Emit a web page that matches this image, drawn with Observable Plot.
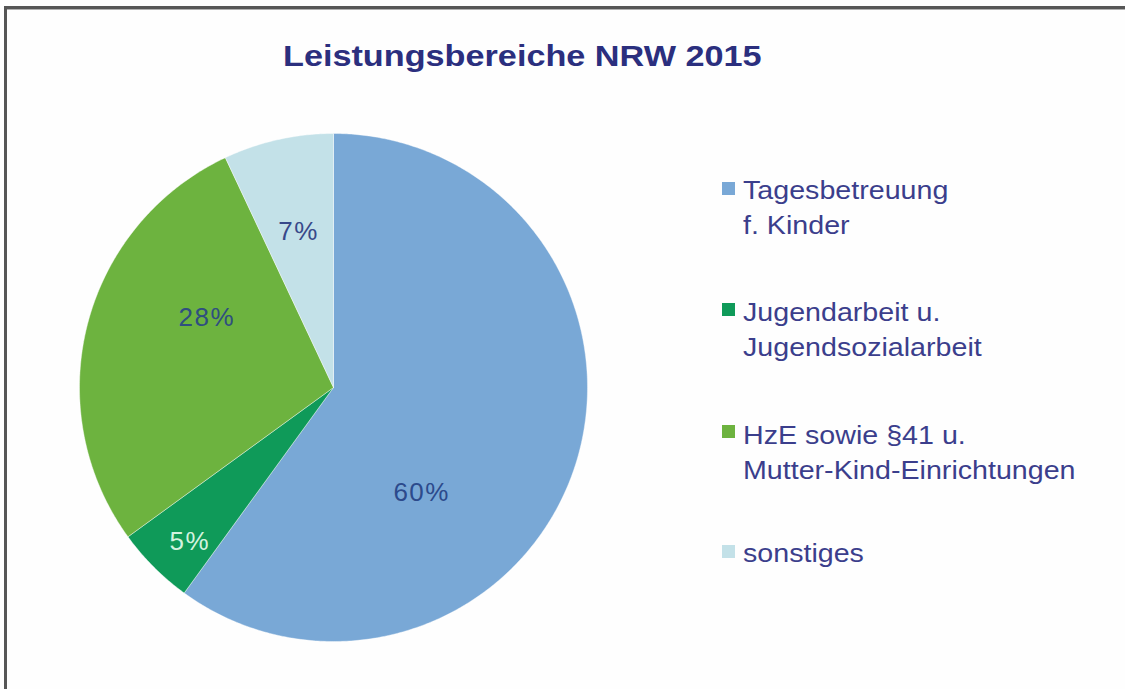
<!DOCTYPE html>
<html>
<head>
<meta charset="utf-8">
<script src="https://cdn.jsdelivr.net/npm/d3@7"></script>
<script src="https://cdn.jsdelivr.net/npm/@observablehq/plot@0.6"></script>
<style>
  html, body { margin: 0; padding: 0; background: #fff; }
  #wrap { position: relative; width: 1125px; height: 689px; overflow: hidden; background: #fefefe;
          font-family: "Liberation Sans", Arial, sans-serif; }
  #chart { position: absolute; left: 0; top: 0; }
  .frameTop { position: absolute; left: 4px; right: 0; top: 6px; height: 3px; background: #565656;
              border-bottom: 1px solid #b0b0b0; }
  .frameLeft { position: absolute; left: 4px; width: 3px; top: 6px; bottom: 0; background: #565656; }
  #title { position: absolute; left: 283px; top: 42px; font-size: 29px; line-height: 29px; font-weight: bold;
           color: #2b2f7e; white-space: nowrap; transform: scaleX(1.18); transform-origin: left center; }
  .legText { position: absolute; left: 743px; font-size: 25px; line-height: 35px; color: #3b3e8c;
             white-space: pre; transform: scaleX(1.145); transform-origin: left center; }
  .legSwatch { position: absolute; left: 722px; width: 13px; height: 13px; }
</style>
</head>
<body>
<div id="wrap">
  <div class="frameTop"></div>
  <div class="frameLeft"></div>
  <div id="title">Leistungsbereiche NRW 2015</div>
  <div id="chart"></div>
</div>
<script>
// ---- data ----
const categories = [
  "Tagesbetreuung\nf. Kinder",
  "Jugendarbeit u.\nJugendsozialarbeit",
  "HzE sowie §41 u.\nMutter-Kind-Einrichtungen",
  "sonstiges"
];
const shares = [60, 5, 28, 7];
const percentLabels = ["60%", "5%", "28%", "7%"];

// ---- style / layout ----
const sliceColors = ["#79a8d6", "#0f9a59", "#6db33f", "#c3e1e8"];
const labelColors = ["#2c4a8c", "#d2f3df", "#2f4e80", "#38498a"];
// label placement: angular shift from slice middle (degrees) and radius fraction
const labelShift = [32, -2, 14.6, 0];
const labelRadius = [0.54, 0.83, 0.57, 0.63];

const W = 1125, H = 689;
const cx = 333, cy = 387, R = 254; // pixel layout of pie

// build slice polygons in unit coordinates (angle clockwise from 12 o'clock)
const total = d3.sum(shares);
let acc = 0;
const polys = [];
const labels = [];
shares.forEach((v, i) => {
  const a0 = acc / total * 2 * Math.PI;
  acc += v;
  const a1 = acc / total * 2 * Math.PI;
  polys.push({cat: categories[i], x: 0, y: 0});
  const n = Math.max(2, Math.ceil((a1 - a0) / (Math.PI / 360)));
  for (let k = 0; k <= n; k++) {
    const a = a0 + (a1 - a0) * k / n;
    polys.push({cat: categories[i], x: Math.sin(a), y: Math.cos(a)});
  }
  polys.push({cat: categories[i], x: 0, y: 0});
  const am = (a0 + a1) / 2 + labelShift[i] * Math.PI / 180;
  labels.push({cat: categories[i], text: percentLabels[i], color: labelColors[i],
               x: labelRadius[i] * Math.sin(am), y: labelRadius[i] * Math.cos(am)});
});

const plot = Plot.plot({
  width: W, height: H,
  margin: 0,
  style: {background: "transparent", fontFamily: "'Liberation Sans', Arial, sans-serif"},
  x: {domain: [-cx / R, (W - cx) / R], axis: null},
  y: {domain: [-(H - cy) / R, cy / R], axis: null},
  color: {domain: categories, range: sliceColors},
  marks: [
    Plot.line(polys, {x: "x", y: "y", z: "cat", fill: "cat", stroke: "#ffffff",
                      strokeWidth: 0.8, strokeOpacity: 0.5, curve: "linear"}),
    Plot.text(labels, {x: "x", y: "y", text: "text", fill: d => d.color,
                       fontSize: 26, fontFamily: "'Liberation Sans', Arial, sans-serif"})
  ]
});
plot.querySelectorAll("text").forEach(t => t.setAttribute("letter-spacing", "1.5"));
document.getElementById("chart").appendChild(plot);

// legend
const wrap = document.getElementById("wrap");
const legTops = [173, 295, 418, 536];
const swTops = [182, 303, 425, 545];
categories.forEach((c, i) => {
  const sw = document.createElement("div");
  sw.className = "legSwatch";
  sw.style.top = swTops[i] + "px";
  sw.style.background = sliceColors[i];
  wrap.appendChild(sw);
  const t = document.createElement("div");
  t.className = "legText";
  t.style.top = legTops[i] + "px";
  t.textContent = c;
  wrap.appendChild(t);
});
</script>
</body>
</html>
